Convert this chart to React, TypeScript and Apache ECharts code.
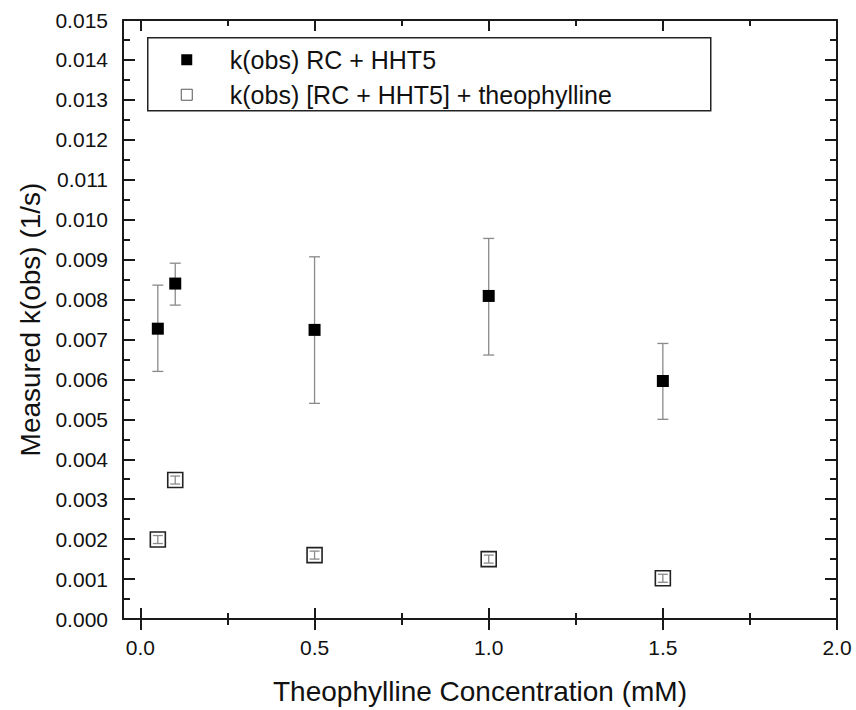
import React, { useEffect, useRef } from "react";
import * as echarts from "echarts";

// ---- Data ----
const concentrations = [0.05, 0.1, 0.5, 1.0, 1.5];

const kobsRC = [0.00727, 0.0084, 0.00724, 0.00809, 0.00596];
const kobsRCLow = [0.0062, 0.00786, 0.0054, 0.00661, 0.005];
const kobsRCHigh = [0.00836, 0.00891, 0.00907, 0.00953, 0.0069];

const kobsTheo = [0.00199, 0.00348, 0.0016, 0.0015, 0.00102];
const kobsTheoLow = [0.00189, 0.00338, 0.0015, 0.0014, 0.00092];
const kobsTheoHigh = [0.00209, 0.00358, 0.0017, 0.0016, 0.00112];

const xMajorTicks = [0, 0.5, 1.0, 1.5, 2.0];
const xMinorTicks = [0.25, 0.75, 1.25, 1.75];

const seriesNames = ["k(obs) RC + HHT5", "k(obs) [RC + HHT5] + theophylline"];
const xTitle = "Theophylline Concentration (mM)";
const yTitle = "Measured k(obs) (1/s)";

const FONT = "'Liberation Sans', Arial, Helvetica, sans-serif";
const AXIS_COLOR = "#1a1a1a";
const TEXT_COLOR = "#111";

function makeErrRender(half: number) {
  return (params: any, api: any) => {
    const x = api.value(0);
    const lo = api.coord([x, api.value(1)]);
    const hi = api.coord([x, api.value(2)]);
    const style = { stroke: "#8a8a8a", lineWidth: 1.3, fill: null };
    return {
      type: "group",
      children: [
        { type: "line", shape: { x1: lo[0], y1: lo[1], x2: hi[0], y2: hi[1] }, style },
        { type: "line", shape: { x1: lo[0] - half, y1: lo[1], x2: lo[0] + half, y2: lo[1] }, style },
        { type: "line", shape: { x1: hi[0] - half, y1: hi[1], x2: hi[0] + half, y2: hi[1] }, style },
      ],
    };
  };
}

function tickAxis(position: "top" | "bottom", values: number[], inside: boolean, length: number, showLine: boolean) {
  return {
    type: "value",
    position,
    min: -0.05,
    max: 2.0,
    axisLine: { show: showLine, onZero: false, lineStyle: { color: AXIS_COLOR, width: 2 } },
    axisTick: { show: true, inside, length, customValues: values, lineStyle: { color: AXIS_COLOR, width: 2 } },
    axisLabel: { show: false },
    splitLine: { show: false },
  };
}

export default function App() {
  const ref = useRef<HTMLDivElement>(null);

  useEffect(() => {
    if (!ref.current) return;
    const chart = echarts.init(ref.current, null, { renderer: "svg" });

    const rcPoints = concentrations.map((x, i) => [x, kobsRC[i]]);
    const theoPoints = concentrations.map((x, i) => [x, kobsTheo[i]]);
    const rcErr = concentrations.map((x, i) => [x, kobsRCLow[i], kobsRCHigh[i]]);
    const theoErr = concentrations.map((x, i) => [x, kobsTheoLow[i], kobsTheoHigh[i]]);

    const legendGraphic = {
      type: "group",
      left: 147,
      top: 37,
      z: 20,
      children: [
        {
          type: "rect",
          shape: { x: 0, y: 0, width: 563, height: 73 },
          style: { fill: "#fff", stroke: "#222", lineWidth: 1.5 },
        },
        {
          type: "rect",
          shape: { x: 33.5, y: 16.5, width: 11, height: 11 },
          style: { fill: "#000" },
        },
        {
          type: "text",
          x: 82,
          y: 22,
          style: {
            text: seriesNames[0],
            fontSize: 25,
            fontFamily: FONT,
            fill: TEXT_COLOR,
            verticalAlign: "middle",
            align: "left",
          },
        },
        {
          type: "rect",
          shape: { x: 33.5, y: 51.5, width: 11, height: 11 },
          style: { fill: "#fff", stroke: "#555", lineWidth: 1 },
        },
        {
          type: "text",
          x: 82,
          y: 57,
          style: {
            text: seriesNames[1],
            fontSize: 25,
            fontFamily: FONT,
            fill: TEXT_COLOR,
            verticalAlign: "middle",
            align: "left",
          },
        },
      ],
    };

    const option: any = {
      animation: false,
      backgroundColor: "#fff",
      textStyle: { fontFamily: FONT },
      grid: { left: 123, right: 19, top: 20, bottom: 90, containLabel: false },
      legend: { show: false },
      graphic: [legendGraphic],
      xAxis: [
        {
          type: "value",
          position: "bottom",
          min: -0.05,
          max: 2.0,
          name: xTitle,
          nameLocation: "middle",
          nameGap: 58,
          nameTextStyle: { fontSize: 28, color: TEXT_COLOR, fontFamily: FONT },
          axisLine: { show: true, onZero: false, lineStyle: { color: AXIS_COLOR, width: 2 } },
          axisTick: { show: true, inside: false, length: 11, customValues: xMajorTicks, lineStyle: { color: AXIS_COLOR, width: 2 } },
          axisLabel: {
            show: true,
            customValues: xMajorTicks,
            margin: 18,
            fontSize: 21,
            color: TEXT_COLOR,
            fontFamily: FONT,
            formatter: (v: number) => v.toFixed(1),
          },
          splitLine: { show: false },
        },
        tickAxis("bottom", xMajorTicks, true, 11, false),
        tickAxis("bottom", xMinorTicks, false, 6, false),
        tickAxis("bottom", xMinorTicks, true, 6, false),
        tickAxis("top", xMajorTicks, true, 11, true),
        tickAxis("top", xMinorTicks, true, 6, false),
      ],
      yAxis: [
        {
          type: "value",
          position: "left",
          min: 0,
          max: 0.015,
          interval: 0.001,
          name: yTitle,
          nameLocation: "middle",
          nameGap: 75,
          nameTextStyle: { fontSize: 28, color: TEXT_COLOR, fontFamily: FONT },
          axisLine: { show: true, onZero: false, lineStyle: { color: AXIS_COLOR, width: 2 } },
          axisTick: { show: true, inside: true, length: 12, lineStyle: { color: AXIS_COLOR, width: 2 } },
          minorTick: { show: true, splitNumber: 2, length: 7, lineStyle: { color: AXIS_COLOR, width: 2 } },
          axisLabel: {
            show: true,
            margin: 15,
            fontSize: 21,
            color: TEXT_COLOR,
            fontFamily: FONT,
            formatter: (v: number) => v.toFixed(3),
          },
          splitLine: { show: false },
          minorSplitLine: { show: false },
        },
        {
          type: "value",
          position: "right",
          min: 0,
          max: 0.015,
          interval: 0.001,
          axisLine: { show: true, onZero: false, lineStyle: { color: AXIS_COLOR, width: 2 } },
          axisTick: { show: true, inside: true, length: 12, lineStyle: { color: AXIS_COLOR, width: 2 } },
          minorTick: { show: true, splitNumber: 2, length: 7, lineStyle: { color: AXIS_COLOR, width: 2 } },
          axisLabel: { show: false },
          splitLine: { show: false },
        },
      ],
      series: [
        {
          type: "custom",
          name: "rcErr",
          xAxisIndex: 0,
          yAxisIndex: 0,
          renderItem: makeErrRender(5.5),
          encode: { x: 0, y: [1, 2] },
          data: rcErr,
          z: 1,
          silent: true,
        },
        {
          type: "scatter",
          name: seriesNames[0],
          xAxisIndex: 0,
          yAxisIndex: 0,
          symbol: "rect",
          symbolSize: 12,
          itemStyle: { color: "#000", opacity: 1 },
          data: rcPoints,
          z: 3,
        },
        {
          type: "custom",
          name: "theoErr",
          xAxisIndex: 0,
          yAxisIndex: 0,
          renderItem: makeErrRender(5),
          encode: { x: 0, y: [1, 2] },
          data: theoErr,
          z: 1,
          silent: true,
        },
        {
          type: "scatter",
          name: seriesNames[1],
          xAxisIndex: 0,
          yAxisIndex: 0,
          symbol: "rect",
          symbolSize: 15,
          itemStyle: { color: "rgba(255,255,255,0)", borderColor: "#222", borderWidth: 1.6, opacity: 1 },
          data: theoPoints,
          z: 3,
        },
      ],
    };

    chart.setOption(option);
    return () => chart.dispose();
  }, []);

  return (
    <div
      ref={ref}
      style={{ position: "fixed", left: 0, top: 0, width: 856, height: 710, background: "#fff" }}
    />
  );
}
